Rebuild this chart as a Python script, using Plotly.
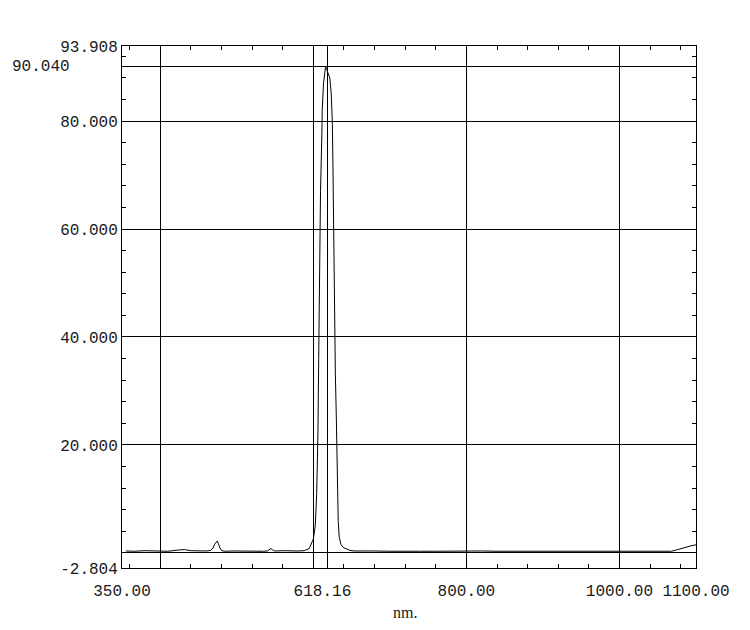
import plotly.graph_objects as go

# Spectrum readings (nm, absorbance-like value)
wavelength = [355, 365, 380, 395, 410, 425, 432, 440, 450, 460, 466, 469, 471, 473, 474.5,
              476, 478, 480.5, 485, 495, 510, 525, 535, 540, 542.5, 544.5, 546.5, 549, 560,
              570, 580, 588, 594.6, 599.9, 602.5, 604.4, 606, 607, 608.1, 609.4, 611.2,
              611.6, 613.3, 615.9, 616.9, 619.5, 621.5, 623.4, 624.8, 625.6, 626.3, 627.0,
              627.6, 628.8, 629.9, 630.6, 631.4, 632.5, 633.8, 636, 639, 643, 648, 653, 665,
              680, 700, 720, 740, 760, 780, 800, 820, 840, 860, 880, 900, 920, 940, 960,
              980, 1000, 1010, 1020, 1040, 1060, 1068, 1076, 1084, 1092, 1100]
value = [0.35, 0.3, 0.4, 0.35, 0.3, 0.55, 0.6, 0.4, 0.35, 0.35, 0.45, 0.9, 1.6, 2.1, 2.2,
         1.7, 0.9, 0.4, 0.3, 0.35, 0.3, 0.35, 0.3, 0.35, 0.6, 0.8, 0.6, 0.35, 0.4,
         0.35, 0.35, 0.4, 0.8, 2.5, 5.0, 11.0, 22.0, 36.0, 52.0, 67.0, 78.0,
         82.0, 87.0, 90.04, 89.8, 88.7, 88.0, 85.0, 80.0, 72.0, 63.0, 52.0,
         42.0, 33.0, 26.0, 18.0, 11.0, 6.0, 3.0, 1.6, 1.0, 0.7, 0.45, 0.35, 0.3,
         0.35, 0.3, 0.35, 0.3, 0.3, 0.35, 0.3, 0.35, 0.3, 0.3, 0.3, 0.35, 0.3, 0.3, 0.3,
         0.3, 0.35, 0.4, 0.3, 0.3, 0.3, 0.3, 0.6, 0.95, 1.25, 1.5]

x_range = [350, 1100]
y_range = [-2.804, 93.908]

x_tickvals = [350, 400, 600, 618.16, 800, 1000, 1100]
x_ticktext = ["350.00", "", "", "618.16\u00a0", "800.00", "1000.00", "1100.00"]

y_tickvals = [-2.804, 0, 20, 40, 60, 80, 90.04, 93.908]
y_ticktext = ["-2.804", "", "20.000", "40.000", "60.000", "80.000", "", "93.908"]

peak_value_label = "90.040"
peak_value = 90.04
x_title = "nm."

tick_font = dict(family="Liberation Mono", size=16, color="#1a1a1a")

fig = go.Figure()
fig.add_trace(go.Scatter(
    x=wavelength, y=value, mode="lines",
    line=dict(color="black", width=1),
    hoverinfo="x+y", showlegend=False,
))

fig.update_layout(
    width=742, height=622,
    margin=dict(l=114, r=54, t=38, b=62),
    paper_bgcolor="white", plot_bgcolor="white",
    xaxis=dict(
        range=x_range, tickmode="array", tickvals=x_tickvals, ticktext=x_ticktext,
        showgrid=True, gridcolor="black", gridwidth=1, zeroline=False,
        showline=True, linecolor="black", linewidth=1, mirror="ticks",
        ticks="", tickfont=tick_font, ticklabelstandoff=8,
        minor=dict(ticks="inside", ticklen=4, tickcolor="black", tickwidth=1,
                   tickmode="linear", tick0=360, dtick=40, showgrid=False),
    ),
    yaxis=dict(
        range=y_range, tickmode="array", tickvals=y_tickvals, ticktext=y_ticktext,
        showgrid=True, gridcolor="black", gridwidth=1, zeroline=False,
        showline=True, linecolor="black", linewidth=1, mirror="ticks",
        ticks="", tickfont=tick_font,
        minor=dict(ticks="inside", ticklen=4, tickcolor="black", tickwidth=1,
                   tickmode="linear", tick0=0, dtick=4, showgrid=False),
    ),
    annotations=[
        dict(text=peak_value_label, xref="paper", yref="y", x=-0.087, y=peak_value,
             xanchor="right", yanchor="middle", showarrow=False, font=tick_font),
        dict(text=x_title, xref="paper", yref="paper", x=0.5, y=-0.0843, xshift=-4,
             xanchor="center", yanchor="middle", showarrow=False,
             font=dict(family="Liberation Serif", size=16, color="#1a1a1a")),
    ],
)

fig.write_html("out.html")
